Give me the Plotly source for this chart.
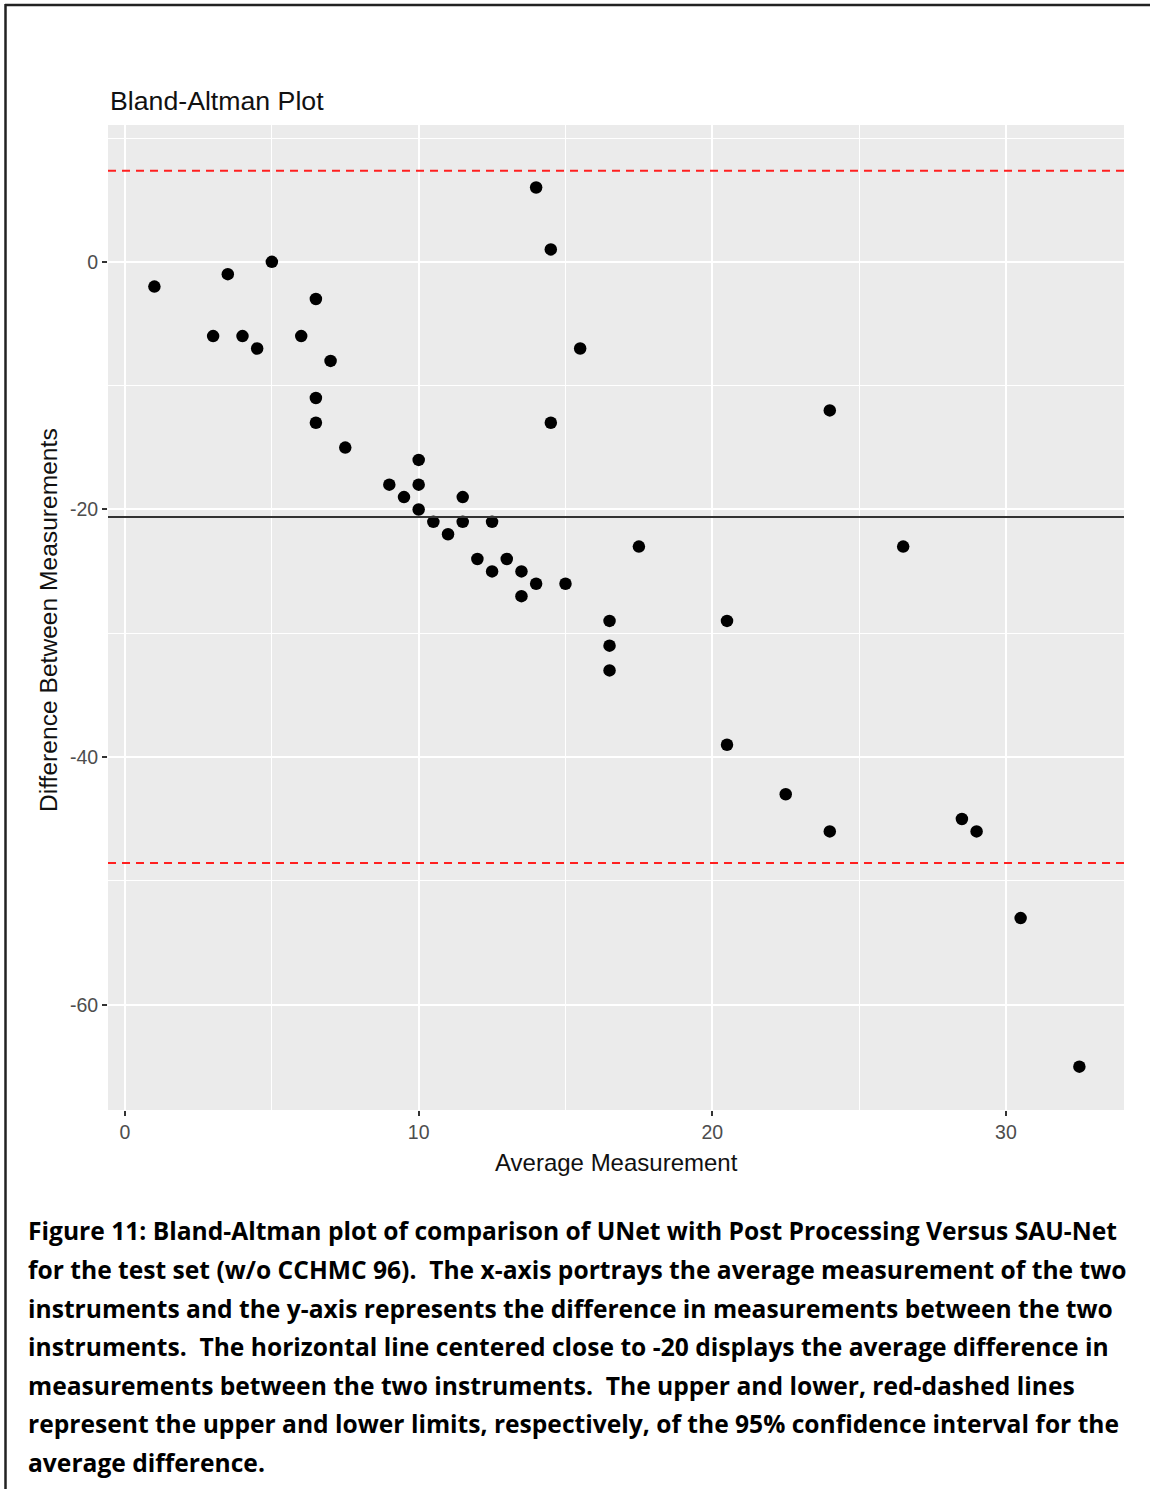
import plotly.graph_objects as go

# ---- data ----
avg_measurement = [1, 3, 3.5, 4, 4.5, 5, 6, 6.5, 6.5, 6.5, 7, 7.5,
                   9, 9.5, 10, 10, 10, 10.5, 11, 11.5, 11.5, 12, 12.5, 12.5, 13, 13.5, 13.5,
                   14, 14, 14.5, 14.5, 15, 15.5,
                   16.5, 16.5, 16.5, 17.5, 20.5, 20.5, 22.5, 24, 24, 26.5, 28.5, 29, 30.5, 32.5]
difference = [-2, -6, -1, -6, -7, 0, -6, -3, -11, -13, -8, -15,
              -18, -19, -16, -18, -20, -21, -22, -19, -21, -24, -21, -25, -24, -25, -27,
              6, -26, 1, -13, -26, -7,
              -29, -31, -33, -23, -29, -39, -43, -12, -46, -23, -45, -46, -53, -65]
mean_diff = -20.6
upper_limit = 7.35
lower_limit = -48.55

x_ticks = [0, 10, 20, 30]
x_tick_labels = ["0", "10", "20", "30"]
y_ticks = [-60, -40, -20, 0]
y_tick_labels = ["-60", "-40", "-20", "0"]

title_text = "Bland-Altman Plot"
x_title = "Average Measurement"
y_title = "Difference Between Measurements"
caption_lines = [
    "Figure 11: Bland-Altman plot of comparison of UNet with Post Processing Versus SAU-Net",
    "for the test set (w/o CCHMC 96).  The x-axis portrays the average measurement of the two",
    "instruments and the y-axis represents the difference in measurements between the two",
    "instruments.  The horizontal line centered close to -20 displays the average difference in",
    "measurements between the two instruments.  The upper and lower, red-dashed lines",
    "represent the upper and lower limits, respectively, of the 95% confidence interval for the",
    "average difference.",
]

# ---- layout geometry (pixels) ----
W, H = 1150, 1489
L, R, T, B = 108, 1124, 125, 1110
PW, PH = R - L, B - T


def px_x(px):
    return (px - L) / PW


def px_y(py):
    return (B - py) / PH


fig = go.Figure()
fig.add_trace(go.Scatter(
    x=avg_measurement, y=difference, mode="markers",
    marker=dict(color="black", size=12.5, line=dict(width=0)),
    hoverinfo="x+y", showlegend=False,
))

shapes = [
    dict(type="line", xref="paper", yref="y", x0=0, x1=1, y0=mean_diff, y1=mean_diff,
         line=dict(color="#333333", width=2), layer="above"),
    dict(type="line", xref="paper", yref="y", x0=0, x1=1, y0=upper_limit, y1=upper_limit,
         line=dict(color="#FF2020", width=2, dash="8px,6px"), layer="above"),
    dict(type="line", xref="paper", yref="y", x0=0, x1=1, y0=lower_limit, y1=lower_limit,
         line=dict(color="#FF2020", width=2, dash="8px,6px"), layer="above"),
    # page border (top and left)
    dict(type="line", xref="paper", yref="paper", x0=px_x(5), x1=px_x(W + 5),
         y0=px_y(5), y1=px_y(5), line=dict(color="#222222", width=2.5)),
    dict(type="line", xref="paper", yref="paper", x0=px_x(5.5), x1=px_x(5.5),
         y0=px_y(4), y1=px_y(H + 5), line=dict(color="#222222", width=2.5)),
]

annotations = [
    dict(text=title_text, xref="paper", yref="paper", x=px_x(108), y=px_y(101),
         xanchor="left", yanchor="middle", showarrow=False,
         font=dict(family="Liberation Sans, Arial, sans-serif", size=26.7, color="#111111")),
    dict(text=x_title, xref="paper", yref="paper", x=px_x(616), y=px_y(1162),
         xanchor="center", yanchor="middle", showarrow=False,
         font=dict(family="Liberation Sans, Arial, sans-serif", size=24, color="#111111")),
    dict(text=y_title, xref="paper", yref="paper", x=px_x(48), y=px_y(620),
         xanchor="center", yanchor="middle", showarrow=False, textangle=-90,
         font=dict(family="Liberation Sans, Arial, sans-serif", size=24.6, color="#111111")),
]

line_y = [1230, 1269, 1308, 1346, 1385, 1423, 1462]
for txt, py in zip(caption_lines, line_y):
    annotations.append(dict(
        text=txt, xref="paper", yref="paper", x=px_x(26), y=px_y(py),
        xanchor="left", yanchor="middle", showarrow=False,
        font=dict(family="Open Sans, sans-serif", size=24.6, color="black", weight="bold"),
    ))

axis_font = dict(family="Liberation Sans, Arial, sans-serif", size=19.5, color="#4D4D4D")

fig.update_layout(
    width=W, height=H,
    margin=dict(l=L, r=W - R, t=T, b=H - B, pad=0),
    paper_bgcolor="white", plot_bgcolor="#EBEBEB",
    shapes=shapes, annotations=annotations, showlegend=False,
    xaxis=dict(range=[-0.58, 34.02], tickvals=x_ticks, ticktext=x_tick_labels,
               ticks="outside", ticklen=5,
               tickwidth=2, tickcolor="#333333", tickfont=axis_font,
               showgrid=True, gridcolor="white", gridwidth=2,
               minor=dict(dtick=5, tick0=0, showgrid=True, gridcolor="white", gridwidth=1, ticks=""),
               zeroline=False, showline=False, fixedrange=True),
    yaxis=dict(range=[-68.5, 11.05], tickvals=y_ticks, ticktext=y_tick_labels,
               ticks="outside", ticklen=5,
               tickwidth=2, tickcolor="#333333", tickfont=axis_font,
               showgrid=True, gridcolor="white", gridwidth=2,
               minor=dict(dtick=10, tick0=0, showgrid=True, gridcolor="white", gridwidth=1, ticks=""),
               zeroline=False, showline=False, fixedrange=True),
)

fig.write_html("out.html")
